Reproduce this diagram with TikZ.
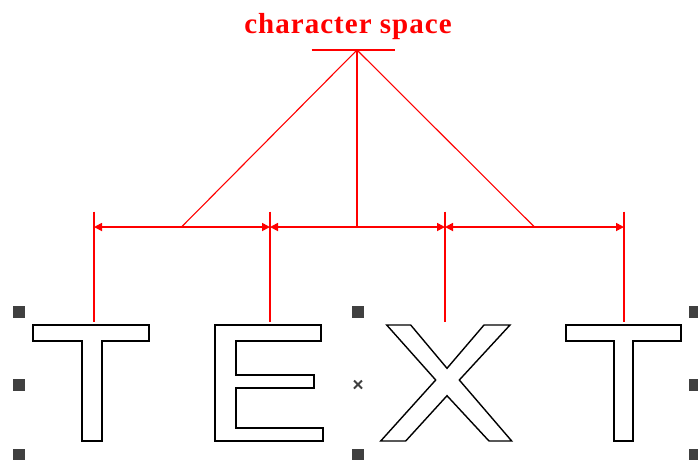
\documentclass[tikz,border=0pt]{standalone}
\usepackage{fontspec}
\setmainfont{Liberation Serif}
\usetikzlibrary{arrows.meta}
\definecolor{dimred}{RGB}{255,0,0}
\definecolor{handle}{RGB}{64,64,64}
\tikzset{
  dimline/.style={draw=dimred,line width=1.7pt},
  dimarrow/.style={dimline,{Triangle[length=8pt,width=8pt]}-{Triangle[length=8pt,width=8pt]}},
  glyph/.style={draw=black,fill=white,line width=1.7pt,line join=miter},
  hsq/.style={fill=handle,draw=none,minimum size=12pt,inner sep=0pt,outer sep=0pt},
  title/.style={text=dimred,font=\fontsize{29}{30}\selectfont\bfseries\addfontfeature{LetterSpace=3.5},inner sep=0pt}
}
\begin{document}
\begin{tikzpicture}[x=1pt,y=-1pt]
\useasboundingbox (0,0) rectangle (698,459);
% handles
\node[hsq] (h1) at (18.5,311.5) {};
\node[hsq] (h2) at (18.5,385) {};
\node[hsq] (h3) at (18.5,455) {};
\node[hsq] (h4) at (358,311.5) {};
\node[hsq] (h5) at (358,455) {};
\node[hsq] (h6) at (695,311.5) {};
\node[hsq] (h7) at (695,385) {};
\node[hsq] (h8) at (695,455) {};
\coordinate (xm) at (358,384.5);
\draw[handle,line width=2pt] ([shift={(-4,-4)}]xm) -- ([shift={(4,4)}]xm)
  ([shift={(-4,4)}]xm) -- ([shift={(4,-4)}]xm);
% letter T
\draw[glyph] (33.3,325) -- (149.3,325) -- (149.3,340.7) -- (102.3,340.7) -- (102.3,441)
  -- (82.3,441) -- (82.3,340.7) -- (33.3,340.7) -- cycle;
% letter E
\draw[glyph] (215,325) -- (320.7,325) -- (320.7,340.7) -- (235.7,340.7) -- (235.7,375)
  -- (314.3,375) -- (314.3,387.7) -- (235.7,387.7) -- (235.7,427.7) -- (322.7,427.7)
  -- (322.7,441) -- (215,441) -- cycle;
% letter X
\draw[glyph,line width=1.4pt] (386.7,325) -- (410.7,325) -- (447,368.3) -- (484,325) -- (510,325)
  -- (459.3,380) -- (511.7,441) -- (489,441) -- (447,395.7) -- (405.7,441) -- (380.7,441)
  -- (435.7,380) -- cycle;
% letter T
\draw[glyph] (565.7,325) -- (681,325) -- (681,340.7) -- (632.7,340.7) -- (632.7,441)
  -- (614.3,441) -- (614.3,340.7) -- (565.7,340.7) -- cycle;
% dimension verticals
\coordinate (v1t) at (94,211.5);  \coordinate (v1b) at (94,322);
\coordinate (v2t) at (270,211.5); \coordinate (v2b) at (270,322);
\coordinate (v3t) at (445,211.5); \coordinate (v3b) at (445,322);
\coordinate (v4t) at (624,211.5); \coordinate (v4b) at (624,322);
\draw[dimline] (v1t) -- (v1b);
\draw[dimline] (v2t) -- (v2b);
\draw[dimline] (v3t) -- (v3b);
\draw[dimline] (v4t) -- (v4b);
% dimension arrows
\coordinate (d1) at (94,227);
\coordinate (d2) at (270,227);
\coordinate (d3) at (445,227);
\coordinate (d4) at (624,227);
\draw[dimarrow] (d1) -- (d2);
\draw[dimarrow] (d2) -- (d3);
\draw[dimarrow] (d3) -- (d4);
% apex
\coordinate (apex) at (357,50);
\coordinate (barl) at (311.5,50);
\coordinate (barr) at (395,50);
\coordinate (mid) at (357,227);
\coordinate (left) at (181.5,227);
\coordinate (right) at (534.5,227);
\draw[dimline] (barl) -- (barr);
\draw[dimline] (apex) -- (mid);
\draw[dimline,line width=1.1pt] (apex) -- (left);
\draw[dimline,line width=1.1pt] (apex) -- (right);
\node[title,anchor=base] (lbl) at (348,33) {character space};
\end{tikzpicture}
\end{document}
